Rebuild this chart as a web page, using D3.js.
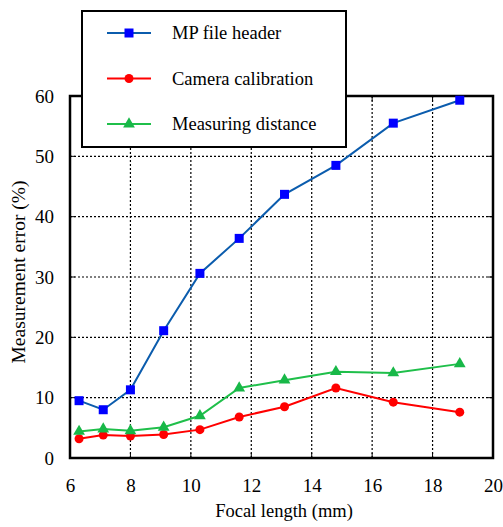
<!DOCTYPE html>
<html>
<head>
<meta charset="utf-8">
<script src="https://cdn.jsdelivr.net/npm/d3@7"></script>
<style>
  body { margin: 0; background: #fff; }
</style>
</head>
<body>
<div id="chart"></div>
<script>
const focal = [6.3, 7.1, 8.0, 9.1, 10.3, 11.6, 13.1, 14.8, 16.7, 18.9];
const mpHeader = [9.5, 8.0, 11.3, 21.1, 30.6, 36.4, 43.7, 48.5, 55.5, 59.3];
const cameraCal = [3.2, 3.8, 3.65, 3.9, 4.7, 6.8, 8.5, 11.6, 9.25, 7.6];
const measDist = [4.4, 4.8, 4.5, 5.1, 7.0, 11.6, 12.9, 14.3, 14.1, 15.6];
const xTicks = [6, 8, 10, 12, 14, 16, 18, 20];
const yTicks = [0, 10, 20, 30, 40, 50, 60];

const series = [
  { name: "MP file header", values: mpHeader, line: "#0b5cad", fill: "#0000ff", shape: "square" },
  { name: "Camera calibration", values: cameraCal, line: "#ff0000", fill: "#ff0000", shape: "circle" },
  { name: "Measuring distance", values: measDist, line: "#1fbf4a", fill: "#18b848", shape: "triangle" }
];

const FONT = '"Liberation Serif"';

var width = 503, height = 527;
const m = { left: 70, right: 10, top: 96, bottom: 69 };

const svg = d3.select("#chart").append("svg")
  .attr("width", width)
  .attr("height", height);

const x = d3.scaleLinear().domain([6, 20]).range([m.left, width - m.right]);
const y = d3.scaleLinear().domain([0, 60]).range([height - m.bottom, m.top]);

// grid
svg.append("g").selectAll("line").data(xTicks.slice(1, -1)).join("line")
  .attr("x1", d => x(d)).attr("x2", d => x(d))
  .attr("y1", y(0)).attr("y2", y(60))
  .attr("stroke", "#000").attr("stroke-width", 1.2).attr("stroke-dasharray", "2,2");
svg.append("g").selectAll("line").data(yTicks.slice(1, -1)).join("line")
  .attr("y1", d => y(d)).attr("y2", d => y(d))
  .attr("x1", x(6)).attr("x2", x(20))
  .attr("stroke", "#000").attr("stroke-width", 1.2).attr("stroke-dasharray", "2,2");

// axes
const xAxis = d3.axisBottom(x).tickValues(xTicks).tickSize(0);
const yAxis = d3.axisLeft(y).tickValues(yTicks).tickSize(0).tickPadding(16);
svg.append("g").attr("transform", `translate(0,${y(0)})`).call(xAxis)
  .call(g => g.select(".domain").remove())
  .selectAll("text").attr("y", 34).attr("dy", 0)
  .style("font-family", FONT).style("font-size", "19px");
svg.append("g").attr("transform", `translate(${x(6)},0)`).call(yAxis)
  .call(g => g.select(".domain").remove())
  .selectAll("text").style("font-family", FONT).style("font-size", "19px");

// inner ticks
const tk = 5;
svg.append("g").selectAll("line").data(xTicks).join("line")
  .attr("x1", d => x(d)).attr("x2", d => x(d)).attr("y1", y(0)).attr("y2", y(0) - tk)
  .attr("stroke", "#000");
svg.append("g").selectAll("line").data(xTicks).join("line")
  .attr("x1", d => x(d)).attr("x2", d => x(d)).attr("y1", y(60)).attr("y2", y(60) + tk)
  .attr("stroke", "#000");
svg.append("g").selectAll("line").data(yTicks).join("line")
  .attr("y1", d => y(d)).attr("y2", d => y(d)).attr("x1", x(6)).attr("x2", x(6) + tk)
  .attr("stroke", "#000");
svg.append("g").selectAll("line").data(yTicks).join("line")
  .attr("y1", d => y(d)).attr("y2", d => y(d)).attr("x1", x(20)).attr("x2", x(20) - tk)
  .attr("stroke", "#000");

// frame
svg.append("rect")
  .attr("x", x(6)).attr("y", y(60))
  .attr("width", x(20) - x(6)).attr("height", y(0) - y(60))
  .attr("fill", "none").attr("stroke", "#000").attr("stroke-width", 2.5);

// axis titles
svg.append("text")
  .attr("x", 284).attr("y", 517)
  .attr("text-anchor", "middle")
  .style("font-family", FONT).style("font-size", "18.5px")
  .text("Focal length (mm)");
svg.append("text")
  .attr("transform", "translate(25,272) rotate(-90)")
  .attr("text-anchor", "middle")
  .style("font-family", FONT).style("font-size", "19.5px")
  .text("Measurement error (%)");

const line = d3.line().x((d, i) => x(focal[i])).y(d => y(d));

function marker(sel, s) {
  if (s.shape === "square") {
    sel.append("rect").attr("x", -4.5).attr("y", -4.5).attr("width", 9).attr("height", 9)
      .attr("fill", s.fill);
  } else if (s.shape === "circle") {
    sel.append("circle").attr("r", 4.5).attr("fill", s.fill);
  } else {
    sel.append("path").attr("d", d3.symbol(d3.symbolTriangle, 60)()).attr("fill", s.fill);
  }
}

series.forEach(s => {
  svg.append("path")
    .datum(s.values)
    .attr("d", line)
    .attr("fill", "none")
    .attr("stroke", s.line)
    .attr("stroke-width", 2);
  svg.append("g").selectAll("g").data(s.values).join("g")
    .attr("transform", (d, i) => `translate(${x(focal[i])},${y(d)})`)
    .each(function () { marker(d3.select(this), s); });
});

// legend
const lg = svg.append("g");
lg.append("rect")
  .attr("x", 82).attr("y", 11).attr("width", 264).attr("height", 136)
  .attr("fill", "#fff").attr("stroke", "#000").attr("stroke-width", 2);
series.forEach((s, i) => {
  const ly = 33 + i * 45.5;
  lg.append("line").attr("x1", 107).attr("x2", 151).attr("y1", ly).attr("y2", ly)
    .attr("stroke", s.line).attr("stroke-width", 2);
  const mg = lg.append("g").attr("transform", `translate(129,${ly})`);
  marker(mg, s);
  lg.append("text").attr("x", 172).attr("y", ly + 6)
    .style("font-family", FONT).style("font-size", "18.5px").text(s.name);
});
</script>
</body>
</html>
